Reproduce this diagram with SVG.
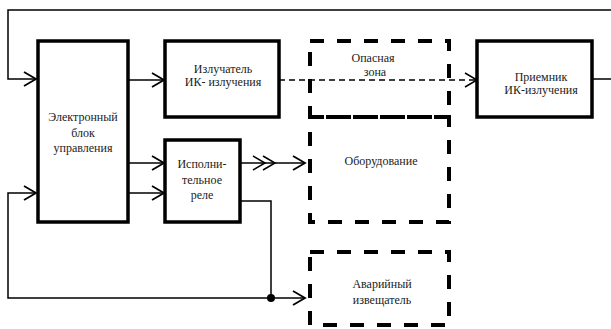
<svg xmlns="http://www.w3.org/2000/svg" width="611" height="329" viewBox="0 0 611 329">
<style>
.box{fill:#fff;stroke:#000;stroke-width:3.5}
.dbox{fill:none;stroke:#000;stroke-width:4;stroke-dasharray:14 13}
.ln{fill:none;stroke:#000;stroke-width:1.5}
.dl{fill:none;stroke:#000;stroke-width:1.5;stroke-dasharray:6 4}
text{font-family:"Liberation Serif","DejaVu Serif","Times New Roman",serif;font-size:12px;text-anchor:middle;fill:#222}
</style>
<defs>
<marker id="arr" markerUnits="userSpaceOnUse" markerWidth="14" markerHeight="16" refX="12" refY="7" orient="auto" overflow="visible">
<path d="M0,0 L12,7 L0,14" fill="none" stroke="#000" stroke-width="1.8"/>
</marker>
</defs>
<g id="connectors">
<path class="ln" d="M592,79 H613 V10 H8 V79 H36" marker-end="url(#arr)"/>
<path class="ln" d="M128,80 H164" marker-end="url(#arr)"/>
<path class="ln" d="M128,163 H164" marker-end="url(#arr)"/>
<path class="ln" d="M128,193 H164" marker-end="url(#arr)"/>
<path class="dl" d="M279,80 H475"/>
<path class="ln" d="M465,73 L477,80 L465,87" stroke-width="1.8"/>
<path class="ln" d="M240,163 H305" marker-end="url(#arr)"/>
<path class="ln" d="M253,156 L265,163 L253,170 M263,156 L275,163 L263,170" stroke-width="1.8"/>
<path class="ln" d="M240,201 H271 V298"/>
<path class="ln" d="M271,298 H8 V193 H36" marker-end="url(#arr)"/>
<path class="ln" d="M271,298 H305" marker-end="url(#arr)"/>
<circle cx="271" cy="298" r="4" fill="#000"/>
</g>
<g id="ebu"><rect class="box" x="38" y="41" width="90" height="181"/>
<text x="83" y="121">Электронный</text><text x="83" y="137">блок</text><text x="83" y="152">управления</text></g>
<g id="emitter"><rect class="box" x="165" y="41" width="114" height="76"/>
<text x="223" y="73">Излучатель</text><text x="223" y="86">ИК- излучения</text></g>
<g id="relay"><rect class="box" x="165" y="140" width="75" height="82"/>
<text x="202" y="168">Исполни-</text><text x="202" y="184">тельное</text><text x="202" y="199">реле</text></g>
<g id="zone"><rect class="dbox" x="310" y="41" width="139" height="76"/>
<text x="373" y="62">Опасная</text><text x="375" y="76">зона</text></g>
<g id="equipment"><rect class="dbox" x="310" y="117" width="139" height="105"/>
<text x="381" y="165">Оборудование</text></g>
<g id="alarm"><rect class="dbox" x="310" y="252" width="139" height="73"/>
<text x="382" y="288">Аварийный</text><text x="382" y="304">извещатель</text></g>
<g id="receiver"><rect class="box" x="477" y="41" width="115" height="76"/>
<text x="541" y="81">Приемник</text><text x="541" y="94">ИК-излучения</text></g>
</svg>
